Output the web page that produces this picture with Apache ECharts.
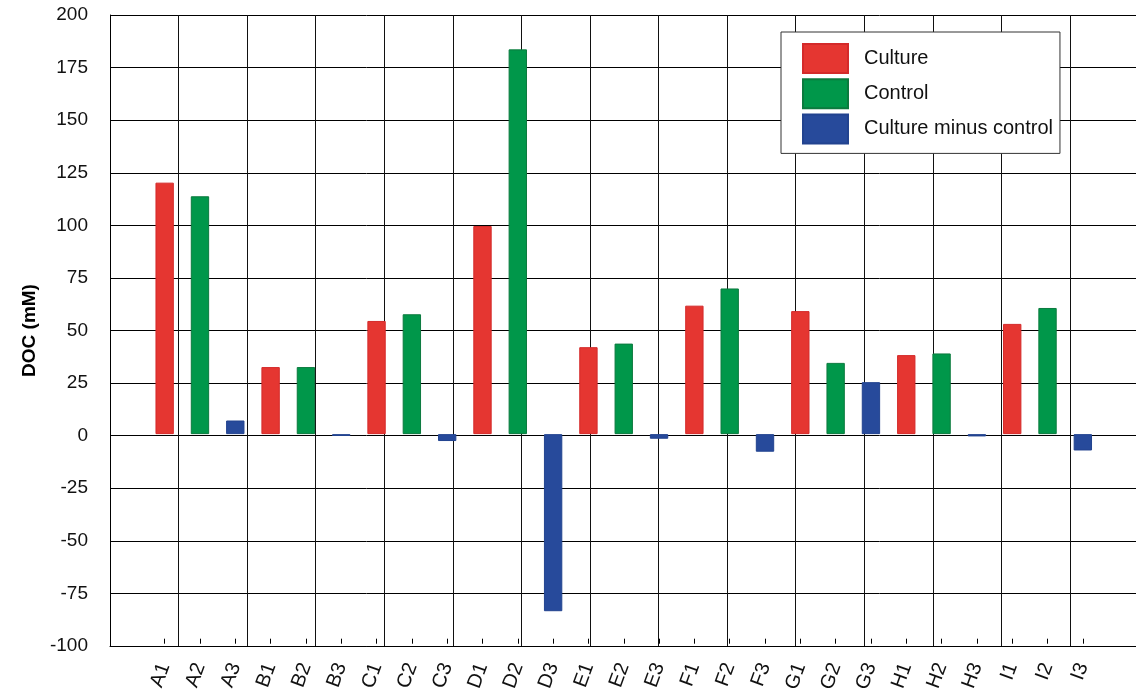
<!DOCTYPE html>
<html>
<head>
<meta charset="utf-8">
<script src="https://cdn.jsdelivr.net/npm/echarts@6/dist/echarts.min.js"></script>
<style>
  html, body { margin: 0; padding: 0; background: #fff; }
  #chart { width: 1136px; height: 695px; }
</style>
</head>
<body>
<div id="chart"></div>
<script>
// ---- data ----
const categories = ['A1','A2','A3','B1','B2','B3','C1','C2','C3','D1','D2','D3','E1','E2','E3','F1','F2','F3','G1','G2','G3','H1','H2','H3','I1','I2','I3'];
const cultureCats = ['A1','B1','C1','D1','E1','F1','G1','H1','I1'];
const cultureValues = [120, 32, 54, 99.3, 41.5, 61.3, 58.7, 37.7, 52.6];
const controlCats = ['A2','B2','C2','D2','E2','F2','G2','H2','I2'];
const controlValues = [113.5, 32, 57.2, 183.6, 43.2, 69.5, 34, 38.5, 60.2];
const diffCats = ['A3','B3','C3','D3','E3','F3','G3','H3','I3'];
const diffValues = [6.5, -0.9, -3.3, -84.5, -2.2, -8.4, 24.8, -1.1, -7.8];
const yTicks = { min: -100, max: 200, step: 25 };
const seriesNames = ['Culture', 'Control', 'Culture minus control'];

function toFull(cats, vals) {
  const m = {};
  cats.forEach((c, i) => { m[c] = vals[i]; });
  return categories.map(c => (c in m ? m[c] : '-'));
}

const font = "'Liberation Sans', Arial, Helvetica, sans-serif";
const chart = echarts.init(document.getElementById('chart'), null, { renderer: 'canvas' });

const colors = [
  { fill: '#E53631', border: '#D42A2A' },
  { fill: '#00974A', border: '#0B7A3E' },
  { fill: '#274A9B', border: '#22438F' }
];

const option = {
  backgroundColor: '#fff',
  animation: false,
  textStyle: { fontFamily: font, color: '#000' },
  grid: [
    { left: 110, right: 0, top: 15, bottom: 49, containLabel: false },
    { left: 147, right: 35.5, top: 15, bottom: 49, containLabel: false }
  ],
  legend: {
    orient: 'vertical',
    left: 781,
    top: 32,
    itemWidth: 45,
    itemHeight: 29,
    itemGap: 4.2,
    padding: [11, 7, 9, 21],
    borderColor: '#333',
    borderWidth: 1,
    backgroundColor: '#fff',
    icon: 'rect',
    textStyle: { fontSize: 20, lineHeight: 20, fontFamily: font, color: '#111', padding: [9, 0, 0, 11] },
    data: seriesNames
  },
  xAxis: [
    {
      type: 'value', gridIndex: 0, min: 0, max: 1026 / 68.57, interval: 1,
      axisLine: { show: true, onZero: false, lineStyle: { color: '#000', width: 1 } },
      axisTick: { show: false },
      axisLabel: { show: false },
      splitLine: { show: true, lineStyle: { color: '#111', width: 1 } }
    },
    {
      type: 'category', gridIndex: 1, data: categories, boundaryGap: true, position: 'bottom',
      axisLine: { show: false, onZero: false },
      axisTick: { show: true, inside: true, length: 5, alignWithLabel: true, lineStyle: { color: '#000' } },
      axisLabel: { show: true, interval: 0, rotate: 70, fontSize: 20, margin: 20, color: '#111', fontFamily: font },
      splitLine: { show: false }
    }
  ],
  yAxis: [
    {
      type: 'value', gridIndex: 0, min: yTicks.min, max: yTicks.max, interval: yTicks.step,
      name: 'DOC (mM)', nameLocation: 'middle', nameGap: 67,
      nameTextStyle: { fontSize: 19, fontWeight: 'bold', color: '#000', fontFamily: font },
      axisLine: { show: true, lineStyle: { color: '#000', width: 1 } },
      axisTick: { show: true, inside: true, length: 5, lineStyle: { color: '#000' } },
      axisLabel: { fontSize: 19, margin: 22, color: '#111', fontFamily: font },
      splitLine: { show: true, lineStyle: { color: '#000', width: 1 } }
    },
    {
      type: 'value', gridIndex: 1, min: yTicks.min, max: yTicks.max, interval: yTicks.step,
      show: false, splitLine: { show: false }
    }
  ],
  series: [
    [cultureCats, cultureValues],
    [controlCats, controlValues],
    [diffCats, diffValues]
  ].map((pair, i) => ({
    name: seriesNames[i],
    type: 'bar',
    xAxisIndex: 1,
    yAxisIndex: 1,
    barWidth: '52%',
    barGap: '-100%',
    data: toFull(pair[0], pair[1]),
    itemStyle: { color: colors[i].fill, borderColor: colors[i].border, borderWidth: 1 },
    z: 3
  }))
};

chart.setOption(option);
</script>
</body>
</html>
